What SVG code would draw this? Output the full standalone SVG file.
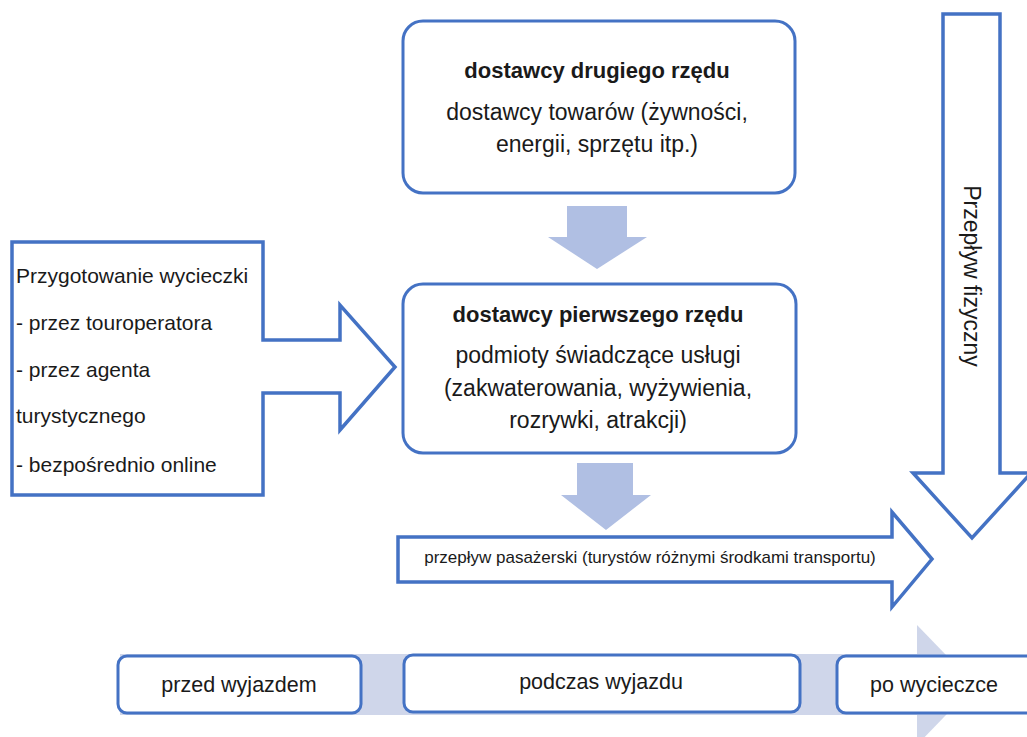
<svg xmlns="http://www.w3.org/2000/svg" width="1027" height="737" viewBox="0 0 1027 737">
  <style>
    .box { fill: #ffffff; stroke: #4472c4; stroke-width: 3; }
    .outline { fill: #ffffff; stroke: #4472c4; stroke-width: 3.5; stroke-linejoin: miter; }
    .flow { fill: #b0bfe3; }
    .band { fill: #cfd6ea; }
    text { font-family: "Liberation Sans", Arial, sans-serif; fill: #1a1a1a; }
    .t { font-size: 23px; text-anchor: middle; }
    .b { font-size: 22px; font-weight: bold; text-anchor: middle; }
    .l { font-size: 21px; }
    .s { font-size: 17px; text-anchor: middle; }
    .tl { font-size: 21.5px; text-anchor: middle; }
  </style>
  <rect width="1027" height="737" fill="#ffffff"/>

  <!-- timeline band with arrow head (behind phase boxes) -->
  <g id="timeline-band">
    <rect class="band" x="120" y="654" width="800" height="61"/>
    <polygon class="band" points="917,625 975,685 917,745"/>
  </g>

  <!-- block arrows between supplier tiers -->
  <g id="connectors">
    <polygon class="flow" points="567,206 627,206 627,237 647,237 597,269 548,237 567,237"/>
    <polygon class="flow" points="577,463 633,463 633,495 651,495 606,530 561,495 577,495"/>
  </g>

  <g id="tier2">
    <rect class="box" x="403" y="21" width="392" height="172" rx="20"/>
    <text class="b" x="597" y="78">dostawcy drugiego rzędu</text>
    <text class="t" x="597" y="120">dostawcy towarów (żywności,</text>
    <text class="t" x="597" y="152">energii, sprzętu itp.)</text>
  </g>

  <g id="tier1">
    <rect class="box" x="403" y="284" width="393" height="169" rx="20"/>
    <text class="b" x="598" y="322">dostawcy pierwszego rzędu</text>
    <text class="t" x="598" y="363">podmioty świadczące usługi</text>
    <text class="t" x="598" y="396">(zakwaterowania, wyżywienia,</text>
    <text class="t" x="598" y="428">rozrywki, atrakcji)</text>
  </g>

  <g id="trip-preparation">
    <path class="outline" d="M12,242 L263,242 L263,340 L340,340 L340,305 L395,367 L340,430 L340,393 L263,393 L263,495 L12,495 Z"/>
    <text class="l" x="16" y="283">Przygotowanie wycieczki</text>
    <text class="l" x="16" y="330">- przez touroperatora</text>
    <text class="l" x="16" y="377">- przez agenta</text>
    <text class="l" x="16" y="423">turystycznego</text>
    <text class="l" x="16" y="472">- bezpośrednio online</text>
  </g>

  <g id="passenger-flow">
    <path class="outline" d="M398,537 L892,537 L892,512 L932,559 L892,607 L892,582 L398,582 Z"/>
    <text class="s" x="650" y="563">przepływ pasażerski (turystów różnymi środkami transportu)</text>
  </g>

  <g id="physical-flow">
    <path class="outline" d="M943,14 L1000,14 L1000,473 L1031,473 L972,538 L913,473 L943,473 Z"/>
    <text class="t" transform="translate(964,276) rotate(90)">Przepływ  fizyczny</text>
  </g>

  <g id="phase-before">
    <rect class="box" x="118" y="656" width="243" height="57" rx="9"/>
    <text class="tl" x="239" y="692">przed wyjazdem</text>
  </g>
  <g id="phase-during">
    <rect class="box" x="404" y="655" width="396" height="57" rx="9"/>
    <text class="tl" x="601" y="689">podczas wyjazdu</text>
  </g>
  <g id="phase-after">
    <rect class="box" x="837" y="656" width="200" height="57" rx="9"/>
    <text class="tl" x="934" y="692">po wycieczce</text>
  </g>
</svg>
